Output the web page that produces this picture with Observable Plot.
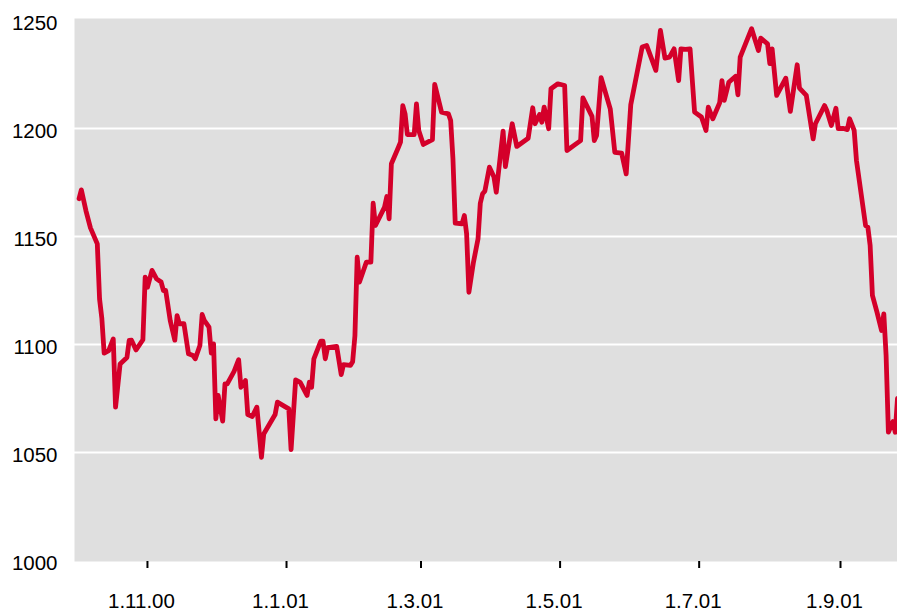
<!DOCTYPE html>
<html>
<head>
<meta charset="utf-8">
<script src="https://cdn.jsdelivr.net/npm/d3@7"></script>
<script src="https://cdn.jsdelivr.net/npm/@observablehq/plot@0.6"></script>
<style>
  html, body { margin: 0; padding: 0; background: #ffffff; }
  #chart svg { display: block; }
</style>
</head>
<body>
<div id="chart"></div>
<script>
const dates = [
"2000-10-02","2000-10-03","2000-10-05","2000-10-07","2000-10-10","2000-10-11","2000-10-12","2000-10-13","2000-10-15","2000-10-17",
"2000-10-18","2000-10-20","2000-10-23","2000-10-24","2000-10-25","2000-10-27","2000-10-30","2000-10-31","2000-11-01","2000-11-03",
"2000-11-05","2000-11-07","2000-11-08","2000-11-09","2000-11-11","2000-11-13","2000-11-14","2000-11-15","2000-11-17","2000-11-19",
"2000-11-21","2000-11-22","2000-11-24","2000-11-25","2000-11-26","2000-11-28","2000-11-29","2000-11-30","2000-12-01","2000-12-02",
"2000-12-04","2000-12-05","2000-12-06","2000-12-09","2000-12-11","2000-12-12","2000-12-14","2000-12-15","2000-12-17","2000-12-19",
"2000-12-21","2000-12-22","2000-12-27","2000-12-28","2001-01-02","2001-01-03","2001-01-05","2001-01-07","2001-01-10","2001-01-11",
"2001-01-12","2001-01-13","2001-01-16","2001-01-17","2001-01-18","2001-01-19","2001-01-23","2001-01-25","2001-01-26","2001-01-29",
"2001-01-30","2001-01-31","2001-02-01","2001-02-02","2001-02-05","2001-02-07","2001-02-08","2001-02-09","2001-02-13","2001-02-14",
"2001-02-15","2001-02-16","2001-02-19","2001-02-20","2001-02-21","2001-02-22","2001-02-23","2001-02-26","2001-02-27","2001-02-28",
"2001-03-02","2001-03-06","2001-03-07","2001-03-10","2001-03-13","2001-03-14","2001-03-15","2001-03-16","2001-03-19","2001-03-20",
"2001-03-21","2001-03-22","2001-03-24","2001-03-26","2001-03-27","2001-03-28","2001-03-29","2001-03-31","2001-04-02","2001-04-03",
"2001-04-06","2001-04-07","2001-04-10","2001-04-12","2001-04-17","2001-04-19","2001-04-20","2001-04-22","2001-04-23","2001-04-24",
"2001-04-26","2001-04-27","2001-04-30","2001-05-03","2001-05-04","2001-05-08","2001-05-10","2001-05-11","2001-05-15","2001-05-16",
"2001-05-17","2001-05-19","2001-05-23","2001-05-25","2001-05-28","2001-05-30","2001-06-01","2001-06-06","2001-06-08","2001-06-12",
"2001-06-14","2001-06-16","2001-06-18","2001-06-20","2001-06-22","2001-06-23","2001-06-25","2001-06-27","2001-06-29","2001-07-02",
"2001-07-04","2001-07-05","2001-07-07","2001-07-10","2001-07-11","2001-07-12","2001-07-14","2001-07-17","2001-07-18","2001-07-19",
"2001-07-24","2001-07-27","2001-07-28","2001-07-31","2001-08-01","2001-08-02","2001-08-04","2001-08-08","2001-08-10","2001-08-13",
"2001-08-14","2001-08-17","2001-08-20","2001-08-21","2001-08-25","2001-08-26","2001-08-28","2001-08-30","2001-08-31","2001-09-02",
"2001-09-04","2001-09-05","2001-09-07","2001-09-08","2001-09-12","2001-09-13","2001-09-14","2001-09-15","2001-09-17","2001-09-19",
"2001-09-20","2001-09-21","2001-09-22","2001-09-24","2001-09-25","2001-09-26"
];
const values = [
1167.5,1171.6,1162,1154,1146.6,1121,1112,1096,1097.2,1102.6,
1071,1091,1094,1101.9,1102,1097.5,1102.2,1131.2,1126.5,1134.3,
1130.4,1128.9,1125,1125,1111,1102,1113.4,1109.6,1109.6,1095.7,
1094.9,1093.4,1099.5,1113.9,1111,1108,1096,1100.3,1065.6,1076.4,
1064.5,1081.8,1081.8,1087.6,1093,1080.2,1083.3,1067.6,1066.7,1071,
1047.8,1058.6,1067.6,1073.3,1070.2,1051.3,1083.6,1082.5,1076.4,1082.5,
1080.2,1093.4,1101.5,1101.5,1093.4,1098.5,1099.1,1086.1,1090.7,1090.3,
1092,1104,1140.4,1128.9,1138.1,1138.1,1165.4,1155.1,1163.6,1168.5,
1158.2,1183.7,1191.1,1193.7,1210.6,1206.8,1197.2,1197.2,1211.4,1199.1,
1192.6,1194.8,1220.4,1207.6,1206.8,1203.7,1186,1156.2,1155.9,1159.7,
1151.2,1124.2,1138.1,1148.9,1165.4,1169.8,1171,1182.1,1177.5,1170.5,
1198.8,1182.4,1202.2,1191.7,1195.5,1209.6,1202.2,1206.5,1202.9,1209.9,
1199.9,1218.4,1220.7,1219.9,1189.8,1192.9,1194.4,1214.2,1205.6,1194.4,
1196.8,1223.5,1209.1,1189,1188.6,1179,1211,1237.7,1238.4,1226.9,
1245.4,1232.6,1233,1236.9,1222.2,1236.9,1236.6,1236.9,1207.6,1205.3,
1199.1,1209.9,1204.5,1211.9,1222.2,1213,1221.4,1224.2,1215.6,1233,
1246.2,1236.1,1241.8,1239.2,1230,1236.9,1215.3,1223.3,1207.9,1229.5,
1218.7,1215.3,1195.2,1202.2,1210.6,1208.3,1201.4,1209.4,1199.9,1200.1,
1199.5,1204.5,1199.1,1185.2,1155.1,1154.3,1145.8,1122.7,1115,1106.5,
1114.2,1094.9,1059.4,1064.3,1059.4,1075
];
const xDomain = ["2000-09-30", "2001-09-26"];
const xTicks = ["2000-11-01","2001-01-01","2001-03-01","2001-05-01","2001-07-01","2001-09-01"];
const xTickLabels = ["1.11.00","1.1.01","1.3.01","1.5.01","1.7.01","1.9.01"];
const yTicks = [1000, 1050, 1100, 1150, 1200, 1250];
const yTickLabels = ["1000","1050","1100","1150","1200","1250"];
const gridValues = [1050, 1100, 1150, 1200];

const data = dates.map((d, i) => ({date: new Date(d), value: values[i]}));
const tickDates = xTicks.map(d => new Date(d));
const xLabelFor = new Map(tickDates.map((d, i) => [+d, xTickLabels[i]]));
const yLabelFor = new Map(yTicks.map((v, i) => [v, yTickLabels[i]]));
const font = "'Liberation Sans', Arial, Helvetica, sans-serif";

const chart = Plot.plot({
  width: 897,
  height: 613,
  marginLeft: 74,
  marginRight: 0,
  marginTop: 18,
  marginBottom: 52,
  insetTop: 2,
  insetBottom: 1,
  style: {fontFamily: font, fontSize: "20.5px", color: "#000", background: "#fff"},
  x: {type: "utc", domain: xDomain.map(d => new Date(d))},
  y: {domain: [1000, 1250]},
  marks: [
    Plot.frame({fill: "#dfdfdf", stroke: null}),
    Plot.ruleY(gridValues, {stroke: "#ffffff", strokeWidth: 2.2}),
    Plot.line(data, {x: "date", y: "value", stroke: "#d4002a", strokeWidth: 4.8, strokeLinejoin: "round", strokeLinecap: "round", clip: true}),
    Plot.axisY(yTicks, {tickSize: 0, tickPadding: 17, dy: 3, fill: "#000", fontSize: 20.5, fontFamily: font, tickFormat: v => yLabelFor.get(v), label: null}),
    Plot.axisX(tickDates, {tickSize: 7, strokeWidth: 2, stroke: "#000", tickFormat: () => "", label: null}),
    Plot.axisX(tickDates, {tickSize: 0, tickPadding: 32, dx: -6, fill: "#000", fontSize: 20.5, fontFamily: font, tickFormat: d => xLabelFor.get(+d), label: null})
  ]
});
document.getElementById("chart").appendChild(chart);
</script>
</body>
</html>
